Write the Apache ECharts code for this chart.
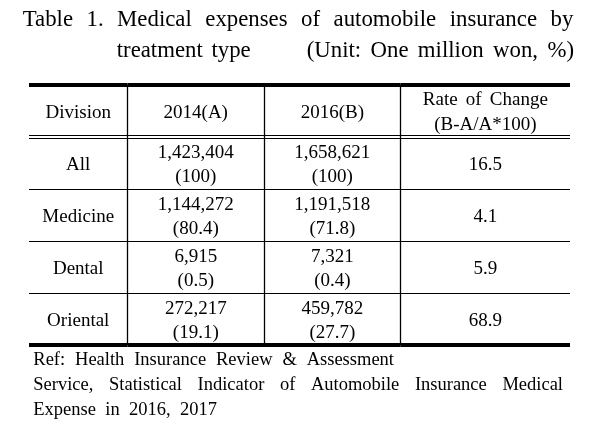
<!DOCTYPE html>
<html><head><meta charset="utf-8">
<script src="https://cdn.jsdelivr.net/npm/echarts@6/dist/echarts.min.js"></script>
<style>html,body{margin:0;padding:0;background:#fff}#c{width:610px;height:434px}</style>
</head><body><div id="c"></div>
<script>
// ---- data ----
const columnHeaders = ['Division', '2014(A)', '2016(B)', 'Rate of Change\n(B-A/A*100)'];
const divisions = ['All', 'Medicine', 'Dental', 'Oriental'];
const expense2014 = [1423404, 1144272, 6915, 272217];
const share2014 = [100, 80.4, 0.5, 19.1];
const expense2016 = [1658621, 1191518, 7321, 459782];
const share2016 = [100, 71.8, 0.4, 27.7];
const rateOfChange = [16.5, 4.1, 5.9, 68.9];
const titleLines = ['Table 1. Medical expenses of automobile insurance by', 'treatment type', '(Unit: One million won, %)'];
const footnoteLines = ['Ref: Health Insurance Review & Assessment', 'Service, Statistical Indicator of Automobile Insurance Medical', 'Expense in 2016, 2017'];

// ---- layout ----
const FONT = '"Liberation Serif","Times New Roman",serif';
const TABLE_SIZE = 19;
const TITLE_SIZE = 22.8;
const NOTE_SIZE = 18.5;
const COL_EDGES = [0, 98.5, 235, 371.7, 541];
const INK = '#000';

const ctx2d = document.createElement('canvas').getContext('2d');
function measure(t, size) { ctx2d.font = size + 'px ' + FONT; return ctx2d.measureText(t).width; }
function justified(text, x0, x1, y, size) {
  const words = text.split(' ');
  const widths = words.map(w => measure(w, size));
  const total = widths.reduce((a, b) => a + b, 0);
  const gap = words.length > 1 ? (x1 - x0 - total) / (words.length - 1) : 0;
  let x = x0; const out = [];
  words.forEach((w, i) => {
    out.push({ type: 'text', x: x, y: y, silent: true,
      style: { text: w, font: size + 'px ' + FONT, fill: INK, align: 'left', verticalAlign: 'middle' } });
    x += widths[i] + gap;
  });
  return out;
}
function fmt(v) { return v.toLocaleString('en-US'); }
function cellLines(col, row) {
  if (row === 0) return columnHeaders[col].split('\n');
  const i = row - 1;
  if (col === 0) return [divisions[i]];
  if (col === 1) return [fmt(expense2014[i]), '(' + share2014[i] + ')'];
  if (col === 2) return [fmt(expense2016[i]), '(' + share2016[i] + ')'];
  return [String(rateOfChange[i])];
}
function txt(t, x, y) {
  return { type: 'text', x: x, y: y,
    style: { text: t, font: TABLE_SIZE + 'px ' + FONT, fill: INK, align: 'center', verticalAlign: 'middle' } };
}
function hline(x1, x2, y) {
  return { type: 'line', shape: { x1: x1, y1: y, x2: x2, y2: y }, style: { stroke: '#000', lineWidth: 1.2 } };
}
function vline(x, y1, y2) {
  return { type: 'line', shape: { x1: x, y1: y1, x2: x, y2: y2 }, style: { stroke: '#000', lineWidth: 1.3 } };
}
function bar(x, y, w, h) {
  return { type: 'rect', shape: { x: x, y: y, width: w, height: h }, style: { fill: '#000' } };
}

function renderCell(params, api) {
  const col = api.value(0), row = api.value(1);
  const c = api.coord([COL_EDGES[col], row]);
  const xL = c[0];
  const xR = api.coord([COL_EDGES[col + 1], row])[0];
  const h = api.size([0, 1])[1];
  const yC = c[1], yT = yC - h / 2, yB = yC + h / 2;
  const cx = (xL + xR) / 2;
  const children = [];
  const lines = cellLines(col, row);
  const ty = yC + 2;
  if (lines.length === 1) children.push(txt(lines[0], cx, ty));
  else {
    if (row === 0 && col === 3) {
      const w = 125;
      justified(lines[0], cx - w / 2, cx + w / 2, ty - 12.5, TABLE_SIZE).forEach(e => children.push(e));
      children.push(txt(lines[1], cx, ty + 12.5));
    } else {
      children.push(txt(lines[0], cx, ty - 12));
      children.push(txt(lines[1], cx, ty + 12));
    }
  }
  if (col < COL_EDGES.length - 2) children.push(vline(Math.floor(xR) + 0.5, yT, yB));
  if (row === 0) {
    children.push(bar(xL, yT - 2, xR - xL, 4));
    children.push(hline(xL, xR, Math.floor(yB) - 1.5));
    children.push(hline(xL, xR, Math.floor(yB) + 1.5));
  } else if (row === divisions.length) {
    children.push(bar(xL, yB - 2, xR - xL, 4));
  } else {
    children.push(hline(xL, xR, Math.floor(yB) + 0.5));
  }
  return { type: 'group', children: children };
}

const cells = [];
for (let r = 0; r <= divisions.length; r++) for (let c = 0; c < columnHeaders.length; c++) cells.push([c, r]);

const graphics = []
  .concat(justified(titleLines[0], 22.7, 573.3, 20, TITLE_SIZE))
  .concat(justified(titleLines[1], 116.7, 250.7, 51, TITLE_SIZE))
  .concat(justified(titleLines[2], 306.7, 574, 51, TITLE_SIZE))
  .concat(justified(footnoteLines[0], 33.3, 394, 360.5, NOTE_SIZE))
  .concat(justified(footnoteLines[1], 33.3, 563, 385.5, NOTE_SIZE))
  .concat(justified(footnoteLines[2], 33.3, 217, 410.5, NOTE_SIZE));

const chart = echarts.init(document.getElementById('c'), null, { renderer: 'canvas' });
chart.setOption({
  animation: false,
  backgroundColor: '#fff',
  grid: { left: 29, right: 40, top: 85, bottom: 89 },
  xAxis: { type: 'value', min: 0, max: COL_EDGES[COL_EDGES.length - 1], show: false },
  yAxis: { type: 'category', data: ['Division'].concat(divisions), inverse: true, show: false },
  series: [{ type: 'custom', renderItem: renderCell, data: cells, clip: false, silent: true }],
  graphic: graphics
});
</script></body></html>
